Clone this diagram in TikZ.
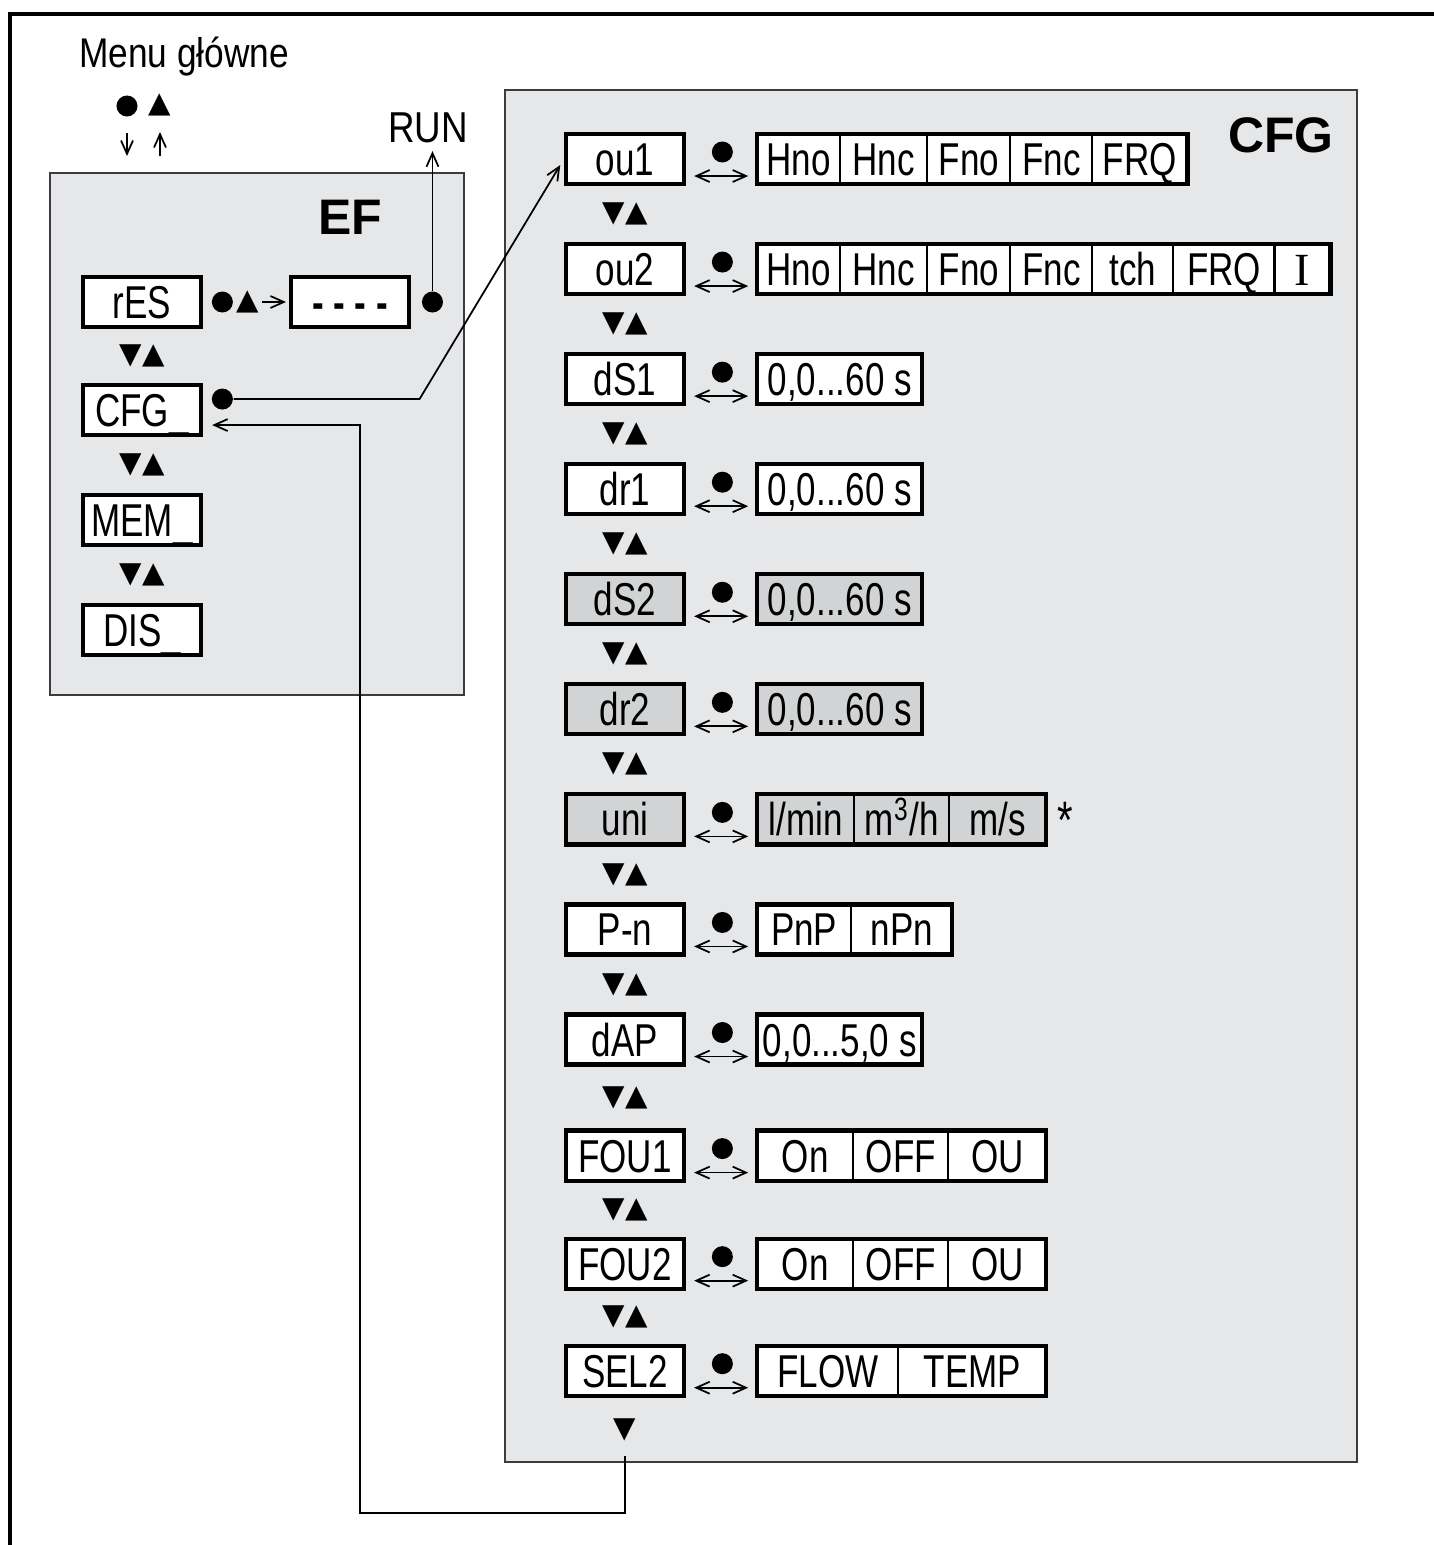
\documentclass[tikz,border=0pt]{standalone}
\usepackage{fontspec}
\setmainfont{Liberation Sans}[FakeStretch=0.85]
\newfontfamily\headfont{Liberation Sans}
\newfontfamily\lcdfont{Liberation Sans}[FakeStretch=0.76]
\newfontfamily\lcdserif{Liberation Serif}
\newfontfamily\keyfont{DejaVu Sans}
\usetikzlibrary{positioning,calc,arrows.meta}

\definecolor{panelgray}{HTML}{E6E7E8}
\definecolor{boxgray}{HTML}{D1D3D4}
\definecolor{rimgray}{HTML}{3C3C3C}

\begin{document}
\begin{tikzpicture}[x=0.01cm, y=-0.01cm, inner sep=0pt, node distance=0pt,
    >={Straight Barb[length=3.8pt,width=3.4pt]},
    panel/.style={draw=rimgray, line width=0.45pt, fill=panelgray},
    param/.style={draw, line width=1.2pt, fill=white, on grid,
        minimum width=1.18cm, minimum height=0.5cm,
        text height=0.33cm, text depth=0pt, font=\lcdfont\fontsize{13.1}{15}\selectfont},
    cell/.style={draw, line width=0.6pt, fill=white, outer sep=0pt,
        minimum height=0.5cm, text height=0.33cm, text depth=0pt,
        font=\lcdfont\fontsize{13.1}{15}\selectfont},
    valframe/.style={draw, line width=1.2pt},
    greyed/.style={fill=boxgray},
    btn/.style={circle, fill=black, minimum size=0.21cm},
    updown/.style={font=\keyfont\fontsize{8.3}{9}\selectfont},
    heading/.style={font=\headfont\bfseries\fontsize{14.2}{16}\selectfont},
    wire/.style={line width=0.5pt}
]
\useasboundingbox (0,0) rectangle (1434,1545);
\draw[line width=0.9pt] (10,1560) -- (10,14) -- (1450,14);

% panels
\node[panel, minimum width=4.14cm, minimum height=5.22cm] (EF) at (257,434) {};
\node[panel, minimum width=8.52cm, minimum height=13.71cm] (CFG) at (931,776) {};
\node[heading] at (350,217) {EF};
\node[heading] at (1281,135) {CFG};

% main menu
\node[anchor=base, font=\fontsize{11.8}{14}\selectfont] (menu) at (184,67) {Menu główne};
\node[btn] (mdot) at (127,106) {};
\node[updown] (mup) at (160,105) {▲};
\coordinate (mtop) at (160,132);
\path[->, wire]
    (mdot.south) edge[shorten <=0.16cm, shorten >=0.16cm] (mdot.south |- EF.north)
    (EF.north -| mtop) edge[shorten <=0.16cm] (mtop);

% EF column
\node[param] (res) at (142,302) {rES};
\node[param, below=1.08cm of res] (cfg) {CFG\_};
\node[param, below=1.1cm of cfg] (mem) {MEM\_};
\node[param, below=1.1cm of mem] (dis) {DIS\_};
\node[param, right=2.08cm of res] (dashes) {\bfseries - - - -};
\node[updown] at ($(res)!0.5!(cfg)$) {▼▲};
\node[updown] at ($(cfg)!0.5!(mem)$) {▼▲};
\node[updown] at ($(mem)!0.5!(dis)$) {▼▲};

\node[btn, right=0.08cm of res] (rb) {};
\node[updown, right=0.02cm of rb] (ru) {▲};
\node[btn, right=0.1cm of dashes] (db) {};
\node[btn, right=0.08cm of cfg, yshift=0.11cm] (cb) {};
\node[anchor=base, font=\fontsize{12.3}{14}\selectfont] (run) at (428,142) {RUN};

% CFG column
\node[param] (ou1) at (625,159) {ou1};
\node[param, below=1.1cm of ou1] (ou2) {ou2};
\node[param, below=1.1cm of ou2] (ds1) {dS1};
\node[param, below=1.1cm of ds1] (dr1) {dr1};
\node[param, greyed, below=1.1cm of dr1] (ds2) {dS2};
\node[param, greyed, below=1.1cm of ds2] (dr2) {dr2};
\node[param, greyed, below=1.1cm of dr2] (uni) {uni};
\node[param, below=1.1cm of uni] (pn) {P-n};
\node[param, below=1.1cm of pn] (dap) {dAP};
\node[param, below=1.16cm of dap] (fou1) {FOU1};
\node[param, below=1.08cm of fou1] (fou2) {FOU2};
\node[param, below=1.07cm of fou2] (sel2) {SEL2};

\node[updown] at ($(ou1)!0.5!(ou2)$) {▼▲};
\node[updown] at ($(ou2)!0.5!(ds1)$) {▼▲};
\node[updown] at ($(ds1)!0.5!(dr1)$) {▼▲};
\node[updown] at ($(dr1)!0.5!(ds2)$) {▼▲};
\node[updown] at ($(ds2)!0.5!(dr2)$) {▼▲};
\node[updown] at ($(dr2)!0.5!(uni)$) {▼▲};
\node[updown] at ($(uni)!0.5!(pn)$) {▼▲};
\node[updown] at ($(pn)!0.5!(dap)$) {▼▲};
\node[updown] at ($(dap)!0.5!(fou1)$) {▼▲};
\node[updown] at ($(fou1)!0.5!(fou2)$) {▼▲};
\node[updown] at ($(fou2)!0.5!(sel2)$) {▼▲};
\node[updown, below=0.2cm of sel2] (last) {▼};

% values
\node[cell, minimum width=0.83cm, right=0.71cm of ou1] (ou1a) {Hno};
\node[cell, minimum width=0.87cm, right=of ou1a] (ou1b) {Hnc};
\node[cell, minimum width=0.83cm, right=of ou1b] (ou1c) {Fno};
\node[cell, minimum width=0.82cm, right=of ou1c] (ou1d) {Fnc};
\node[cell, minimum width=0.95cm, right=of ou1d] (ou1e) {FRQ};
\draw[valframe] (ou1a.north west) rectangle (ou1e.south east);

\node[cell, minimum width=0.83cm, right=0.71cm of ou2] (ou2a) {Hno};
\node[cell, minimum width=0.87cm, right=of ou2a] (ou2b) {Hnc};
\node[cell, minimum width=0.83cm, right=of ou2b] (ou2c) {Fno};
\node[cell, minimum width=0.82cm, right=of ou2c] (ou2d) {Fnc};
\node[cell, minimum width=0.81cm, right=of ou2d] (ou2e) {tch};
\node[cell, minimum width=1.01cm, right=of ou2e] (ou2f) {FRQ};
\node[cell, minimum width=0.56cm, right=of ou2f] (ou2g) {\lcdserif I};
\draw[valframe] (ou2a.north west) rectangle (ou2g.south east);

\node[cell, valframe, minimum width=1.65cm, right=0.71cm of ds1] (ds1v) {0,0...60 s};
\node[cell, valframe, minimum width=1.65cm, right=0.71cm of dr1] (dr1v) {0,0...60 s};
\node[cell, valframe, greyed, minimum width=1.65cm, right=0.71cm of ds2] (ds2v) {0,0...60 s};
\node[cell, valframe, greyed, minimum width=1.65cm, right=0.71cm of dr2] (dr2v) {0,0...60 s};

\node[cell, greyed, minimum width=0.97cm, right=0.71cm of uni] (unia) {l/min};
\node[cell, greyed, minimum width=0.95cm, right=of unia] (unib) {m\textsuperscript{3}/h};
\node[cell, greyed, minimum width=0.97cm, right=of unib] (unic) {m/s};
\draw[valframe] (unia.north west) rectangle (unic.south east);
\node[font=\lcdfont\fontsize{15}{16}\selectfont] at (1065,820) {*};

\node[cell, minimum width=0.94cm, right=0.71cm of pn] (pna) {PnP};
\node[cell, minimum width=1.01cm, right=of pna] (pnb) {nPn};
\draw[valframe] (pna.north west) rectangle (pnb.south east);

\node[cell, valframe, minimum width=1.65cm, right=0.71cm of dap] (dapv) {0,0...5,0 s};

\node[cell, minimum width=0.96cm, right=0.71cm of fou1] (fou1a) {On};
\node[cell, minimum width=0.95cm, right=of fou1a] (fou1b) {OFF};
\node[cell, minimum width=0.98cm, right=of fou1b] (fou1c) {OU};
\draw[valframe] (fou1a.north west) rectangle (fou1c.south east);

\node[cell, minimum width=0.96cm, right=0.71cm of fou2] (fou2a) {On};
\node[cell, minimum width=0.95cm, right=of fou2a] (fou2b) {OFF};
\node[cell, minimum width=0.98cm, right=of fou2b] (fou2c) {OU};
\draw[valframe] (fou2a.north west) rectangle (fou2c.south east);

\node[cell, minimum width=1.41cm, right=0.71cm of sel2] (sel2a) {FLOW};
\node[cell, minimum width=1.48cm, right=of sel2a] (sel2b) {TEMP};
\draw[valframe] (sel2a.north west) rectangle (sel2b.south east);

% set buttons
\node[btn, right=0.25cm of ou1, yshift=0.07cm] {};
\node[btn, right=0.25cm of ou2, yshift=0.07cm] {};
\node[btn, right=0.25cm of ds1, yshift=0.07cm] {};
\node[btn, right=0.25cm of dr1, yshift=0.07cm] {};
\node[btn, right=0.25cm of ds2, yshift=0.07cm] {};
\node[btn, right=0.25cm of dr2, yshift=0.07cm] {};
\node[btn, right=0.25cm of uni, yshift=0.07cm] {};
\node[btn, right=0.25cm of pn, yshift=0.07cm] {};
\node[btn, right=0.25cm of dap, yshift=0.07cm] {};
\node[btn, right=0.25cm of fou1, yshift=0.07cm] {};
\node[btn, right=0.25cm of fou2, yshift=0.07cm] {};
\node[btn, right=0.25cm of sel2, yshift=0.07cm] {};

\path[<->, wire, shorten <=0.08cm, shorten >=0.09cm]
    ([yshift=-0.17cm]ou1.east) edge ([yshift=-0.17cm]ou1a.west)
    ([yshift=-0.17cm]ou2.east) edge ([yshift=-0.17cm]ou2a.west)
    ([yshift=-0.17cm]ds1.east) edge ([yshift=-0.17cm]ds1v.west)
    ([yshift=-0.17cm]dr1.east) edge ([yshift=-0.17cm]dr1v.west)
    ([yshift=-0.17cm]ds2.east) edge ([yshift=-0.17cm]ds2v.west)
    ([yshift=-0.17cm]dr2.east) edge ([yshift=-0.17cm]dr2v.west)
    ([yshift=-0.17cm]uni.east) edge ([yshift=-0.17cm]unia.west)
    ([yshift=-0.17cm]pn.east) edge ([yshift=-0.17cm]pna.west)
    ([yshift=-0.17cm]dap.east) edge ([yshift=-0.17cm]dapv.west)
    ([yshift=-0.17cm]fou1.east) edge ([yshift=-0.17cm]fou1a.west)
    ([yshift=-0.17cm]fou2.east) edge ([yshift=-0.17cm]fou2a.west)
    ([yshift=-0.17cm]sel2.east) edge ([yshift=-0.17cm]sel2a.west);

% links
\coordinate (loop) at (360,1513);
\path[->, wire]
    (ru) edge[shorten <=0.03cm, shorten >=0.03cm] (dashes)
    (db.north) edge[shorten >=0.08cm] (db.north |- run.south);
\draw[->, wire, shorten >=0.07cm] (cb.east) -- ++(186,0) -- (ou1.west);
\draw[->, wire, shorten <=0.14cm, shorten >=0.09cm]
    (last.south) |- (loop) |- ([yshift=-0.15cm]cfg.east);
\end{tikzpicture}
\end{document}
